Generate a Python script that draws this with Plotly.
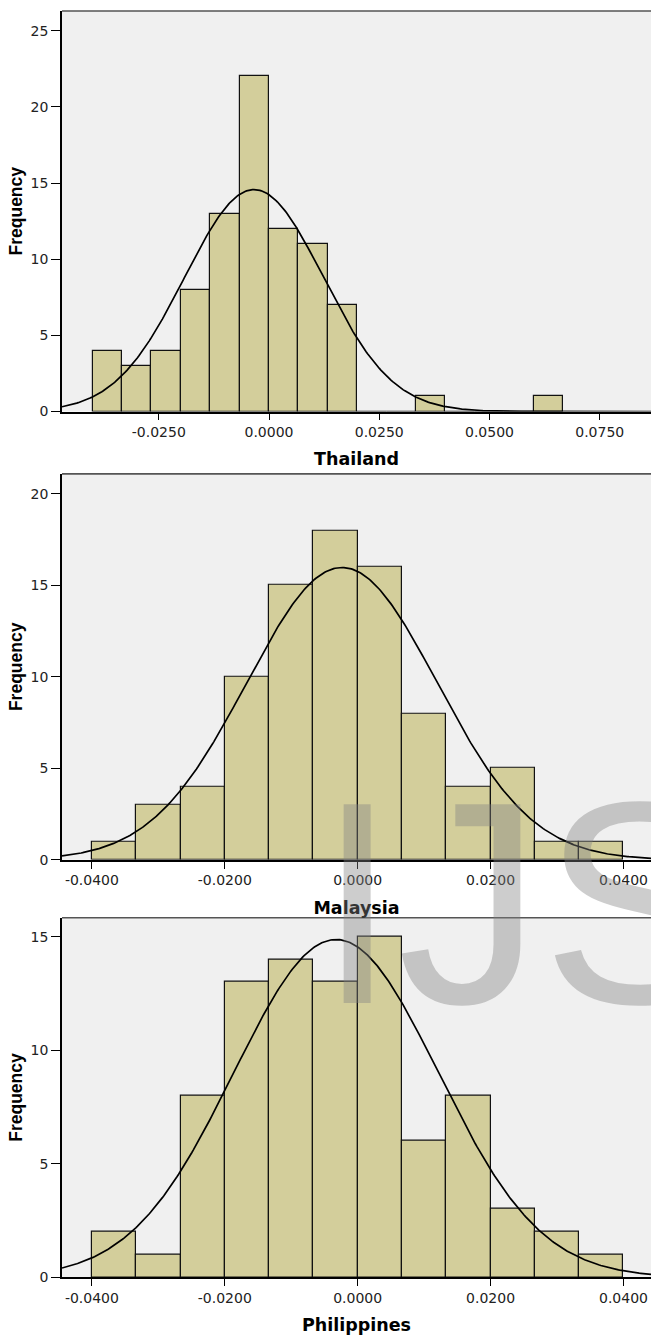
import numpy as np
import plotly.graph_objects as go

# ---------------- data ----------------
bin_start = -0.04
bin_width = 0.02 / 3

thailand_counts = [4, 3, 4, 8, 13, 22, 12, 11, 7, 0, 0, 1, 0, 0, 0, 1]
malaysia_counts = [1, 3, 4, 10, 15, 18, 16, 8, 4, 5, 1, 1]
philippines_counts = [2, 1, 8, 13, 14, 13, 15, 6, 8, 3, 2, 1]

# fitted normal curve parameters (mean, std. dev.)
thailand_mean, thailand_sd = -0.0034, 0.0157
malaysia_mean, malaysia_sd = -0.00237, 0.01432
philippines_mean, philippines_sd = -0.00325, 0.01538

thailand_xtick_vals = [-0.025, 0.0, 0.025, 0.05, 0.075]
thailand_xtick_text = ["-0.0250", "0.0000", "0.0250", "0.0500", "0.0750"]
mp_xtick_vals = [-0.04, -0.02, 0.0, 0.02, 0.04]
mp_xtick_text = ["-0.0400", "-0.0200", "0.0000", "0.0200", "0.0400"]

thailand_ytick_vals = [0, 5, 10, 15, 20, 25]
malaysia_ytick_vals = [0, 5, 10, 15, 20]
philippines_ytick_vals = [0, 5, 10, 15]

titles = ["Thailand", "Malaysia", "Philippines"]
watermark_text = "IJS"

# ---------------- layout geometry ----------------
H = 1335
W = 651
x_domain = [62 / W, 1.0]
panels = [
    dict(name=titles[0], counts=thailand_counts, mean=thailand_mean, sd=thailand_sd,
         xrange=[-0.04694, 0.08662], yrange=[0, 26.3],
         xt=thailand_xtick_vals, xtt=thailand_xtick_text, yt=thailand_ytick_vals,
         top=11, bottom=414),
    dict(name=titles[1], counts=malaysia_counts, mean=malaysia_mean, sd=malaysia_sd,
         xrange=[-0.0445, 0.04414], yrange=[0, 21.09],
         xt=mp_xtick_vals, xtt=mp_xtick_text, yt=malaysia_ytick_vals,
         top=476.7, bottom=865),
    dict(name=titles[2], counts=philippines_counts, mean=philippines_mean, sd=philippines_sd,
         xrange=[-0.0445, 0.04414], yrange=[0, 15.83],
         xt=mp_xtick_vals, xtt=mp_xtick_text, yt=philippines_ytick_vals,
         top=923.3, bottom=1285),
]

BAR_COLOR = "#d3ce9b"
PLOT_BG = "#f0f0f0"
tick_font = dict(family="DejaVu Sans", size=14, color="#222222")

fig = go.Figure()
layout = dict(
    width=W, height=H, autosize=False,
    margin=dict(l=0, r=0, t=0, b=0),
    paper_bgcolor="white", plot_bgcolor=PLOT_BG,
    showlegend=False, bargap=0,
)
shapes = []

for i, p in enumerate(panels):
    k = "" if i == 0 else str(i + 1)
    xa, ya = "x" + k, "y" + k
    counts = np.array(p["counts"], dtype=float)
    centers = bin_start + bin_width * (np.arange(len(counts)) + 0.5)
    n = counts.sum()
    fig.add_trace(go.Bar(
        x=centers, y=counts, width=bin_width,
        marker=dict(color=BAR_COLOR, line=dict(color="#111111", width=1.2)),
        xaxis=xa, yaxis=ya, hoverinfo="skip",
    ))
    xs = np.linspace(p["xrange"][0], p["xrange"][1], 400)
    ys = n * bin_width / (p["sd"] * np.sqrt(2 * np.pi)) * np.exp(-0.5 * ((xs - p["mean"]) / p["sd"]) ** 2)
    fig.add_trace(go.Scatter(
        x=xs, y=ys, mode="lines", line=dict(color="black", width=1.7),
        xaxis=xa, yaxis=ya, hoverinfo="skip",
    ))
    y_domain = [(H - p["bottom"]) / H, (H - p["top"]) / H]
    layout["xaxis" + k] = dict(
        domain=x_domain, anchor=ya, range=p["xrange"],
        tickmode="array", tickvals=p["xt"], ticktext=p["xtt"],
        ticks="outside", ticklen=7, tickwidth=1.3, tickcolor="black",
        showline=True, linecolor="black", linewidth=1.6,
        showgrid=False, zeroline=False, tickfont=tick_font,
        title=dict(text=p["name"], standoff=14,
                   font=dict(family="DejaVu Sans", size=17.5, color="black", weight="bold")),
    )
    layout["yaxis" + k] = dict(
        domain=y_domain, anchor=xa, range=p["yrange"],
        tickmode="array", tickvals=p["yt"],
        ticks="outside", ticklen=9, tickwidth=1.3, tickcolor="black",
        showline=True, linecolor="black", linewidth=1.6,
        showgrid=False, zeroline=False, tickfont=tick_font,
        title=dict(text="Frequency", standoff=3,
                   font=dict(family="Liberation Sans", size=17.5, color="black", weight="bold")),
    )
    shapes.append(dict(type="line", xref=xa + " domain", yref=ya + " domain",
                       x0=0, x1=1, y0=1, y1=1, line=dict(color="#555555", width=1.6)))

layout["shapes"] = shapes
layout["annotations"] = [dict(
    text=watermark_text, xref="paper", yref="paper",
    x=315 / W, y=1 - 743 / H, xanchor="left", yanchor="top",
    showarrow=False,
    font=dict(family="Liberation Sans", size=289, color="rgba(130,130,130,0.4)"),
)]
fig.update_layout(**layout)
fig.write_html(
    "out.html",
    config={"displayModeBar": False, "responsive": False},
    post_script="document.body.style.margin='0px';document.body.style.overflow='hidden';",
)
